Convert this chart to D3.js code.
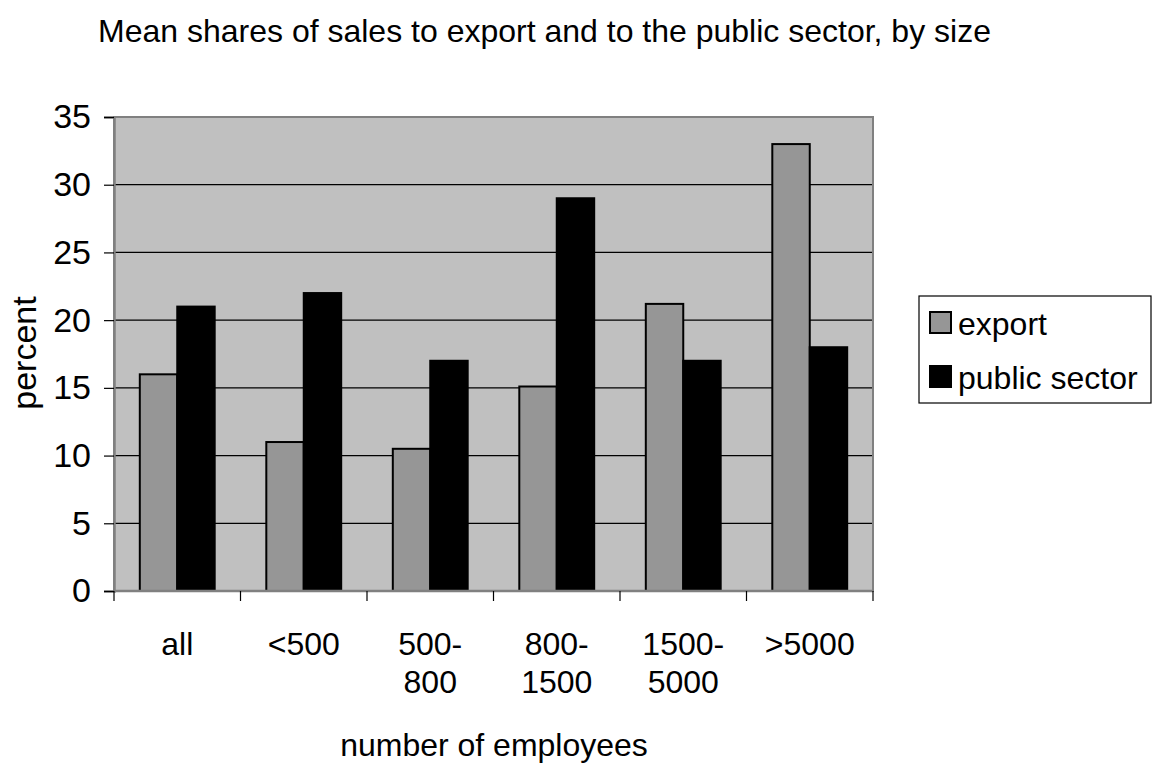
<!DOCTYPE html>
<html>
<head>
<meta charset="utf-8">
<script src="https://cdn.jsdelivr.net/npm/d3@7"></script>
<style>
  html, body { margin: 0; padding: 0; background: #ffffff; }
  svg { display: block; font-family: "Liberation Sans", Arial, sans-serif; }
</style>
</head>
<body>
<svg id="chart" width="1157" height="770"></svg>
<script>
// Size classes (number of employees) and the two series, in percent
const categories = ["all", "<500", "500-800", "800-1500", "1500-5000", ">5000"];
const categoryLines = [["all"], ["<500"], ["500-", "800"], ["800-", "1500"], ["1500-", "5000"], [">5000"]];
const exportShare = [16, 11, 10.5, 15.1, 21.2, 33];
const publicShare = [21, 22, 17, 29, 17, 18];
const seriesNames = ["export", "public sector"];
const yTicks = [0, 5, 10, 15, 20, 25, 30, 35];

const titleText = "Mean shares of sales to export and to the public sector, by size";
const xTitle = "number of employees";
const yTitle = "percent";

const seriesFill = { "export": "#969696", "public sector": "#000000" };

const svg = d3.select("#chart");
const plot = { left: 114, right: 873, top: 117, bottom: 591 };

const x = d3.scaleBand().domain(categories).range([plot.left, plot.right]).paddingInner(0).paddingOuter(0);
const barW = x.bandwidth() * 0.296;
const y = d3.scaleLinear().domain([0, 35]).range([plot.bottom, plot.top]);

// Plot area background
svg.append("rect")
  .attr("x", plot.left).attr("y", plot.top)
  .attr("width", plot.right - plot.left).attr("height", plot.bottom - plot.top)
  .attr("fill", "#c0c0c0");

// Horizontal gridlines
svg.append("g").selectAll("line")
  .data(yTicks.filter(t => t > 0 && t < 35))
  .join("line")
  .attr("x1", plot.left).attr("x2", plot.right)
  .attr("y1", d => y(d)).attr("y2", d => y(d))
  .attr("stroke", "#000").attr("stroke-width", 1.2);

// Bars
const rows = categories.map((c, i) => ({ c, vals: [exportShare[i], publicShare[i]] }));
const groups = svg.append("g").selectAll("g")
  .data(rows)
  .join("g")
  .attr("transform", d => `translate(${x(d.c) + x.bandwidth() / 2 - barW},0)`);

groups.selectAll("rect")
  .data(d => d.vals.map((v, k) => ({ v, k })))
  .join("rect")
  .attr("x", d => d.k * barW)
  .attr("y", d => y(d.v))
  .attr("width", barW)
  .attr("height", d => y(0) - y(d.v))
  .attr("fill", d => seriesFill[seriesNames[d.k]])
  .attr("stroke", "#000")
  .attr("stroke-width", 2);

// Plot border
svg.append("rect")
  .attr("x", plot.left).attr("y", plot.top)
  .attr("width", plot.right - plot.left).attr("height", plot.bottom - plot.top)
  .attr("fill", "none").attr("stroke", "#808080").attr("stroke-width", 2);

// Y axis
const yAxis = d3.axisLeft(y).tickValues(yTicks).tickSize(10).tickPadding(13).tickFormat(d3.format("d"));
const gy = svg.append("g").attr("transform", `translate(${plot.left},0)`).call(yAxis);
gy.select(".domain").attr("stroke", "#808080").attr("stroke-width", 2.5);
gy.selectAll(".tick line").attr("stroke", "#000").attr("stroke-width", 1.2);
gy.selectAll(".tick text").attr("font-size", 34).attr("fill", "#000")
  .attr("font-family", "Liberation Sans, Arial, sans-serif");

// X axis: tick marks at category boundaries
const gx = svg.append("g").attr("transform", `translate(0,${plot.bottom})`);
gx.append("line").attr("x1", plot.left).attr("x2", plot.right)
  .attr("stroke", "#808080").attr("stroke-width", 2.5);
gx.selectAll("line.tk")
  .data(categories.map(c => x(c)).concat([plot.right]))
  .join("line").attr("class", "tk")
  .attr("x1", d => d).attr("x2", d => d).attr("y1", 0).attr("y2", 10)
  .attr("stroke", "#000").attr("stroke-width", 1.2);

// Category labels (wrapped on two lines)
const lab = svg.append("g").selectAll("text")
  .data(categories.map((c, i) => ({ c, lines: categoryLines[i] })))
  .join("text")
  .attr("text-anchor", "middle")
  .attr("font-size", 32)
  .attr("x", d => x(d.c) + x.bandwidth() / 2)
  .attr("y", 655);
lab.selectAll("tspan")
  .data(d => d.lines.map(l => ({ l, cx: x(d.c) + x.bandwidth() / 2 })))
  .join("tspan")
  .attr("x", d => d.cx)
  .attr("dy", (d, i) => i === 0 ? 0 : 38)
  .text(d => d.l);

// Title and axis titles
svg.append("text").attr("x", 98).attr("y", 42).attr("font-size", 32).text(titleText);
svg.append("text").attr("x", 494).attr("y", 756).attr("text-anchor", "middle").attr("font-size", 32).text(xTitle);
svg.append("text").attr("transform", "translate(36,353) rotate(-90)")
  .attr("text-anchor", "middle").attr("font-size", 34).text(yTitle);

// Legend
const leg = svg.append("g");
leg.append("rect").attr("x", 919).attr("y", 296).attr("width", 232).attr("height", 107)
  .attr("fill", "#fff").attr("stroke", "#000").attr("stroke-width", 1.2);
const items = leg.selectAll("g.item").data(seriesNames).join("g").attr("class", "item")
  .attr("transform", (d, i) => `translate(930,${312 + i * 54})`);
items.append("rect").attr("width", 21).attr("height", 21)
  .attr("fill", d => seriesFill[d]).attr("stroke", "#000").attr("stroke-width", 2);
items.append("text").attr("x", 28).attr("y", 23).attr("font-size", 32).text(d => d);
</script>
</body>
</html>
